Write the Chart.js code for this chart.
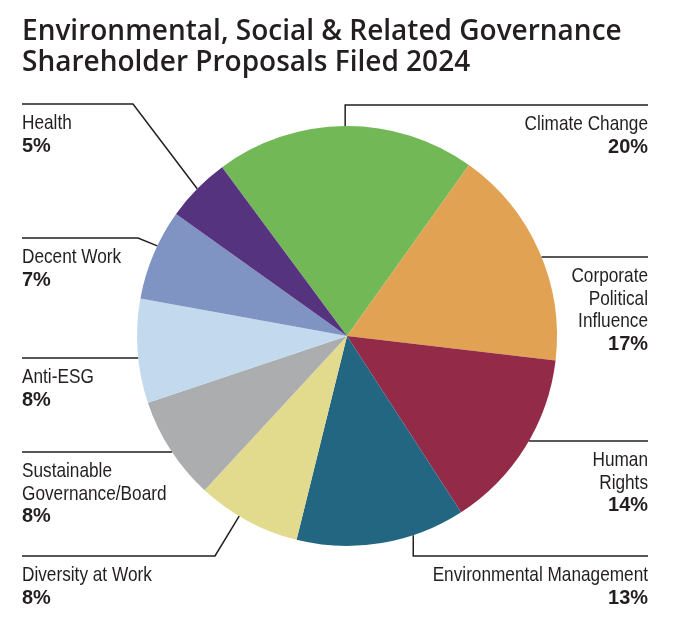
<html>
    <head>
        <meta charset="utf-8">
        <title>ESG Shareholder Proposals Filed 2024</title>
        <style>
            body { margin: 0; background: #fff; }
            #wrap { position: relative; width: 680px; height: 635px; }
            #title {
                position: absolute; left: 22px; top: 14px;
                font-family: "Open Sans", sans-serif; font-weight: 600;
                font-size: 28px; line-height: 31px; color: #231f20;
                white-space: nowrap;
            }
            #chart { position: absolute; left: 0; top: 0; }
        </style>
    </head>
    <body>
        <div id="wrap">
            <canvas id="chart" width="680" height="635"></canvas>
            <div id="title">Environmental, Social &amp; Related Governance<br>Shareholder Proposals Filed 2024</div>
        </div>
        <script src="https://cdn.jsdelivr.net/npm/chart.js"></script>
        <script type="text/javascript">
            // data
            var categories = ["Climate Change", "Corporate Political Influence", "Human Rights",
                "Environmental Management", "Diversity at Work", "Sustainable Governance/Board",
                "Anti-ESG", "Decent Work", "Health"];
            var shares = [20, 17, 14, 13, 8, 8, 8, 7, 5];
            var labelLines = [["Climate Change"], ["Corporate", "Political", "Influence"], ["Human", "Rights"],
                ["Environmental Management"], ["Diversity at Work"], ["Sustainable", "Governance/Board"],
                ["Anti-ESG"], ["Decent Work"], ["Health"]];
            var colors = ["#72b857", "#e2a254", "#922a48", "#236682", "#e2db8e",
                "#acadaf", "#c3daee", "#7f94c2", "#56337f"];

            // where each label and its leader line go
            var layout = [
                {side: "right", y: 105, mode: "vert", frac: 0.5},
                {side: "right", y: 257, mode: "horiz"},
                {side: "right", y: 441, mode: "horiz"},
                {side: "right", y: 556, mode: "vert", frac: 0.31},
                {side: "left", y: 556, mode: "elbow", frac: 0.59, ex: 215},
                {side: "left", y: 452, mode: "horiz"},
                {side: "left", y: 358, mode: "horiz"},
                {side: "left", y: 238, mode: "elbow", frac: 0.6, ex: 138},
                {side: "left", y: 104, mode: "elbow", frac: 0.5, ex: 133}
            ];
            var LEFT_X = 22, RIGHT_X = 648;
            var FONT = '"Liberation Sans", Arial, sans-serif';

            // fake a condensed face by squeezing horizontally
            function narrowText(ctx, t, x, y, squeeze) {
                ctx.save();
                ctx.translate(x, y);
                ctx.scale(squeeze, 1);
                ctx.fillText(t, 0, 0);
                ctx.restore();
            }

            var leaderLabels = {
                id: "leaderLabels",
                afterDraw: function (chart) {
                    var ctx = chart.ctx;
                    var arcs = chart.getDatasetMeta(0).data;
                    ctx.save();
                    ctx.strokeStyle = "#231f20";
                    ctx.fillStyle = "#231f20";
                    ctx.lineWidth = 1.5;
                    arcs.forEach(function (arc, i) {
                        var L = layout[i];
                        var cx = arc.x, cy = arc.y, r = arc.outerRadius;
                        var edgeX = L.side === "right" ? RIGHT_X : LEFT_X;
                        var pts = [];
                        if (L.mode === "horiz") {
                            var dy = L.y - cy;
                            var dx = Math.sqrt(Math.max(0, r * r - dy * dy));
                            pts.push([L.side === "right" ? cx + dx : cx - dx, L.y]);
                        } else {
                            var a = arc.startAngle + (arc.endAngle - arc.startAngle) * L.frac;
                            var px = cx + Math.cos(a) * r, py = cy + Math.sin(a) * r;
                            pts.push([px, py]);
                            if (L.mode === "vert") pts.push([px, L.y]);
                            else pts.push([L.ex, L.y]);
                        }
                        pts.push([edgeX, L.y]);
                        ctx.beginPath();
                        ctx.moveTo(pts[0][0], pts[0][1]);
                        for (var k = 1; k < pts.length; k++) ctx.lineTo(pts[k][0], pts[k][1]);
                        ctx.stroke();

                        ctx.textAlign = L.side === "right" ? "right" : "left";
                        ctx.textBaseline = "alphabetic";
                        var ty = L.y + 25;
                        ctx.font = "21px " + FONT;
                        labelLines[i].forEach(function (t) {
                            narrowText(ctx, t, edgeX, ty, 0.82);
                            ty += 22.5;
                        });
                        ctx.font = "bold 21px " + FONT;
                        narrowText(ctx, shares[i] + "%", edgeX, ty, 0.95);
                    });
                    ctx.restore();
                }
            };

            var chart = new Chart(document.getElementById("chart"), {
                type: "pie",
                data: {
                    labels: categories,
                    datasets: [{
                        data: shares,
                        backgroundColor: colors,
                        borderWidth: 0
                    }]
                },
                options: {
                    responsive: false,
                    animation: false,
                    rotation: -36.5,
                    layout: {padding: {left: 137, right: 123, top: 126, bottom: 89}},
                    plugins: {
                        legend: {display: false},
                        tooltip: {enabled: false}
                    }
                },
                plugins: [leaderLabels]
            });
        </script>
    </body>
</html>
